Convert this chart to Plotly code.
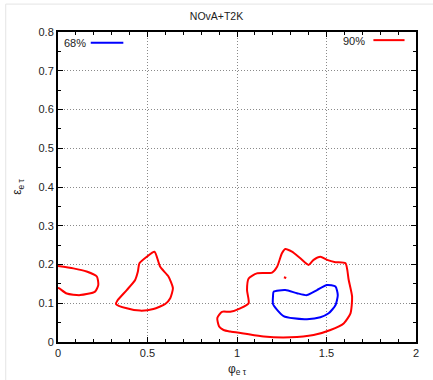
import plotly.graph_objects as go

# Allowed regions in the (phi_etau, eps_etau) plane
# 90% C.L. contours (red)
c90_a_phi = [0.0, 0.086, 0.160, 0.217, 0.225, 0.207, 0.123, 0.049, 0.005, 0.0]
c90_a_eps = [0.196, 0.190, 0.182, 0.169, 0.147, 0.130, 0.121, 0.125, 0.139, 0.139]

c90_b_phi = [0.539, 0.571, 0.617, 0.642, 0.627, 0.599, 0.533, 0.459, 0.384, 0.324,
             0.332, 0.384, 0.431, 0.446, 0.455, 0.496, 0.539]
c90_b_eps = [0.233, 0.194, 0.169, 0.139, 0.113, 0.098, 0.085, 0.081, 0.087, 0.098,
             0.107, 0.134, 0.160, 0.181, 0.203, 0.220, 0.233]

c90_c_phi = [0.962, 0.916, 0.890, 0.900, 0.925, 0.962, 1.037, 1.149, 1.298, 1.428,
             1.522, 1.596, 1.634, 1.643, 1.624, 1.606, 1.550, 1.503, 1.466, 1.428,
             1.400, 1.354, 1.307, 1.270, 1.251, 1.224, 1.196, 1.111, 1.065, 1.056,
             1.065, 1.018, 0.962]
c90_c_eps = [0.078, 0.078, 0.062, 0.040, 0.031, 0.027, 0.022, 0.014, 0.012, 0.018,
             0.031, 0.048, 0.074, 0.117, 0.160, 0.203, 0.206, 0.212, 0.220, 0.212,
             0.199, 0.216, 0.233, 0.240, 0.229, 0.194, 0.179, 0.177, 0.164, 0.134,
             0.100, 0.087, 0.078]

c90_d_phi = [1.262, 1.275]
c90_d_eps = [0.167, 0.165]

# 68% C.L. contour (blue)
c68_phi = [1.205, 1.270, 1.335, 1.391, 1.447, 1.503, 1.550, 1.563, 1.550, 1.512,
           1.466, 1.391, 1.316, 1.260, 1.224, 1.201, 1.201, 1.205]
c68_eps = [0.130, 0.134, 0.126, 0.121, 0.134, 0.147, 0.143, 0.121, 0.095, 0.074,
           0.064, 0.059, 0.061, 0.067, 0.083, 0.098, 0.117, 0.130]

x_ticks = [0, 0.5, 1, 1.5, 2]
x_ticklabels = ["0", "0.5", "1", "1.5", "2"]
y_ticks = [0, 0.1, 0.2, 0.3, 0.4, 0.5, 0.6, 0.7, 0.8]
y_ticklabels = ["0", "0.1", "0.2", "0.3", "0.4", "0.5", "0.6", "0.7", "0.8"]

RED = "#ff0000"
BLUE = "#0000ff"
FONT = "Liberation Sans, Arial, sans-serif"

fig = go.Figure()
for xs, ys in [(c90_a_phi, c90_a_eps), (c90_b_phi, c90_b_eps),
               (c90_c_phi, c90_c_eps), (c90_d_phi, c90_d_eps)]:
    fig.add_trace(go.Scatter(x=xs, y=ys, mode="lines",
                             line=dict(color=RED, width=2, shape="spline", smoothing=0.6),
                             showlegend=False, hoverinfo="skip"))
fig.add_trace(go.Scatter(x=c68_phi, y=c68_eps, mode="lines",
                         line=dict(color=BLUE, width=2, shape="spline", smoothing=0.6),
                         showlegend=False, hoverinfo="skip"))

axis_common = dict(
    showline=True, linecolor="black", linewidth=2, mirror="ticks",
    ticks="inside", ticklen=5, tickwidth=1, tickcolor="black",
    showgrid=True, gridcolor="#8a8a8a", griddash="1px,2px", gridwidth=1,
    zeroline=False, tickfont=dict(family=FONT, size=11, color="#222"),
    automargin=False,
)

fig.update_xaxes(range=[0, 2], tickvals=x_ticks, ticktext=x_ticklabels,
                 minor=dict(dtick=0.1, ticks="inside", ticklen=3, tickcolor="black",
                            showgrid=False),
                 title=dict(text="φ<sub>e τ</sub>", font=dict(family=FONT, size=12, color="#222"),
                            standoff=6),
                 **axis_common)
fig.update_yaxes(range=[0, 0.8], tickvals=y_ticks, ticktext=y_ticklabels,
                 minor=dict(dtick=0.05, ticks="inside", ticklen=3, tickcolor="black",
                            showgrid=False),
                 title=dict(text="ε<sub>e τ</sub>", font=dict(family=FONT, size=12, color="#222"),
                            standoff=14),
                 **axis_common)

# Key entries: label followed by a line sample
fig.add_annotation(x=0.022, y=0.772, xref="x", yref="y", text="68%", showarrow=False,
                   xanchor="left", yanchor="middle",
                   font=dict(family=FONT, size=11, color="#222"))
fig.add_shape(type="line", x0=0.183, x1=0.365, y0=0.772, y1=0.772, xref="x", yref="y",
              line=dict(color=BLUE, width=2))
fig.add_annotation(x=1.729, y=0.777, xref="x", yref="y", text="90%", showarrow=False,
                   xanchor="right", yanchor="middle",
                   font=dict(family=FONT, size=11, color="#222"))
fig.add_shape(type="line", x0=1.762, x1=1.936, y0=0.779, y1=0.779, xref="x", yref="y",
              line=dict(color=RED, width=2))

# Faint outer frame of the figure
fig.add_shape(type="rect", xref="paper", yref="paper", x0=-0.146, x1=1.08, y0=-0.2, y1=1.090,
              line=dict(color="#e4e4e4", width=1), layer="below")

fig.update_layout(
    width=433, height=380,
    margin=dict(l=58, r=17, t=32, b=38),
    paper_bgcolor="white", plot_bgcolor="white",
    title=dict(text="NOvA+T2K", x=0.5, xanchor="center", y=1 - 16.5 / 380, yanchor="middle",
               font=dict(family=FONT, size=10.5, color="#222")),
    showlegend=False,
)

fig.write_html("out.html")
